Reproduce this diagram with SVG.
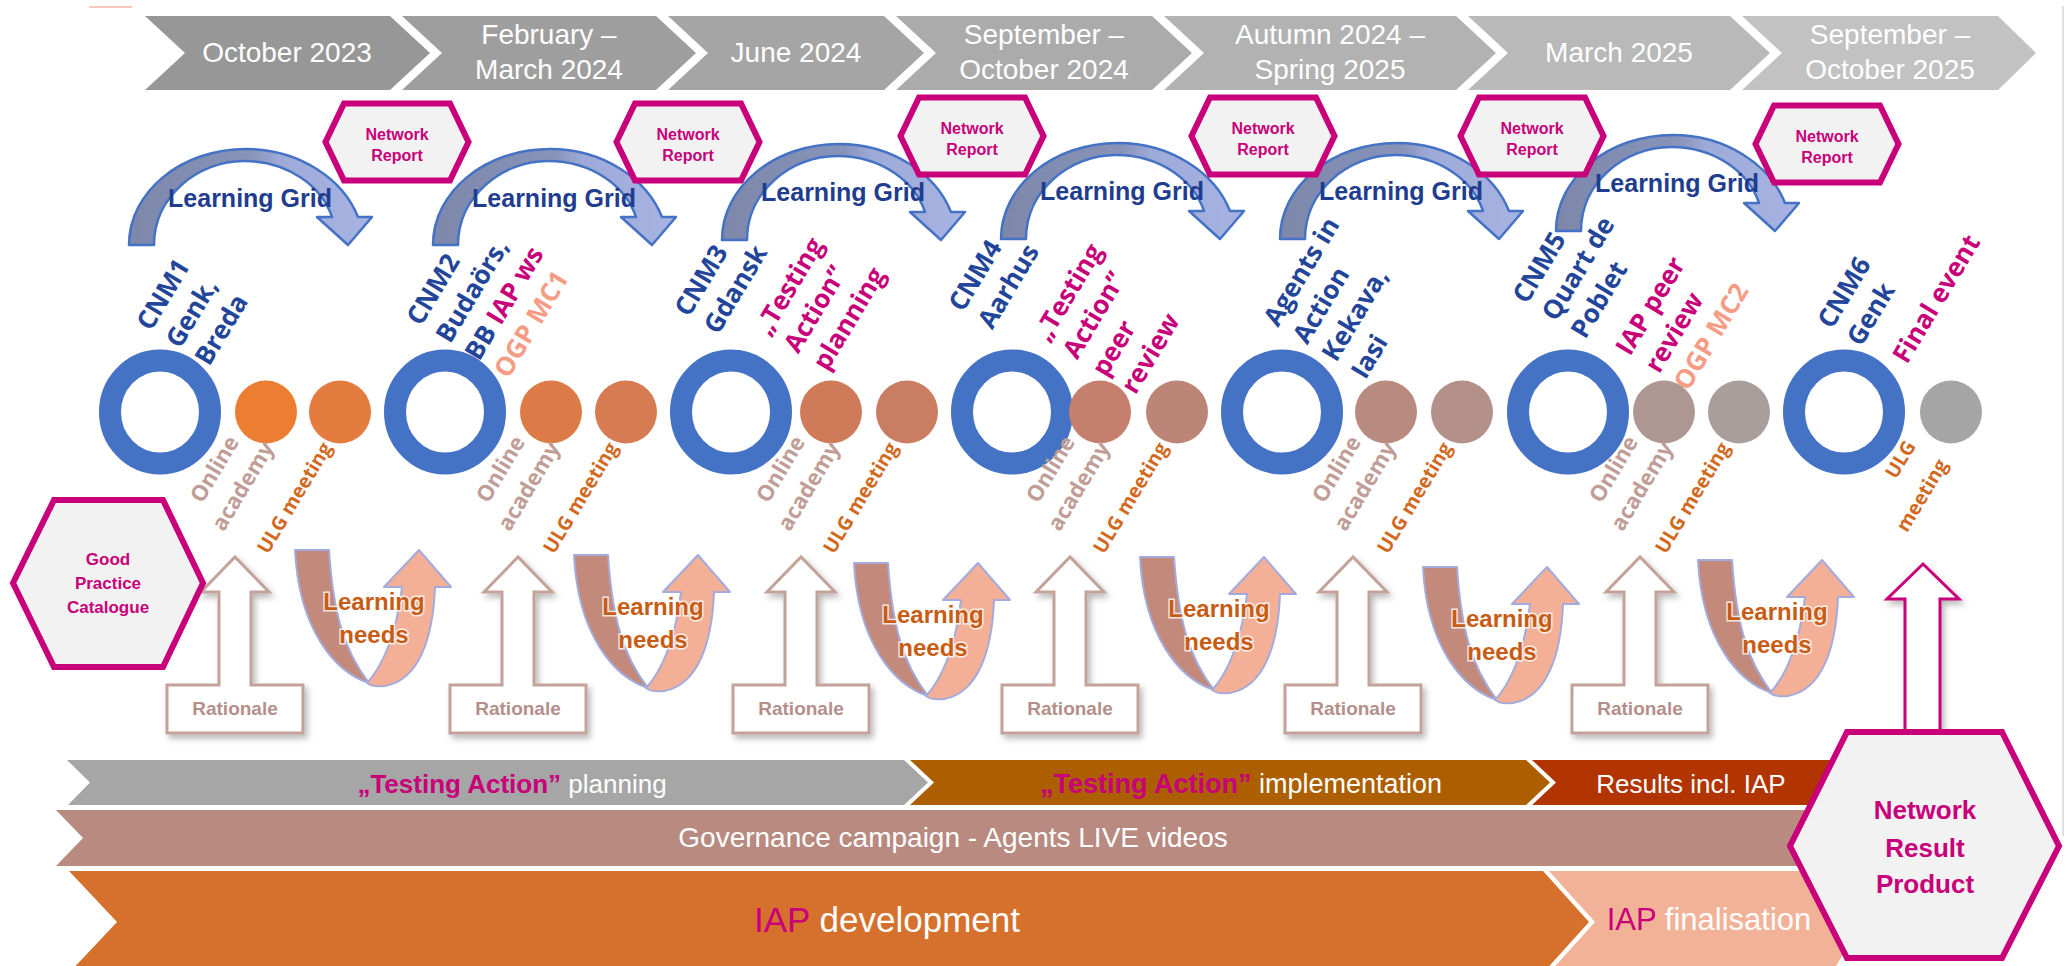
<svg xmlns="http://www.w3.org/2000/svg" width="2069" height="966" viewBox="0 0 2069 966">
  <defs>
    <style>
      .sans { font-family: "Liberation Sans", Arial, sans-serif; }
      .chev-t { font-family: "Liberation Sans", Arial, sans-serif; font-size: 28px; fill: #ffffff; text-anchor: middle; }
      .nr-hex { fill: #f2f2f2; stroke: #c8007a; stroke-width: 6; stroke-linejoin: miter; }
      .nr-t { font-family: "Liberation Sans", Arial, sans-serif; font-weight: bold; font-size: 16px; fill: #c8007a; text-anchor: middle; }
      .lg-arrow { fill: url(#lgGrad); stroke: #4472c4; stroke-width: 2.5; stroke-linejoin: round; }
      .lg-t { font-family: "Liberation Sans", Arial, sans-serif; font-weight: bold; font-size: 25px; fill: #1f3d8e; text-anchor: middle; }
      .ring { fill: none; stroke: #4472c4; stroke-width: 22; }
      .lab { font-family: "Open Sans", "Liberation Sans", sans-serif; font-weight: 700; font-size: 26px; }
      .blue { fill: #22459a; }
      .mag { fill: #c8007a; }
      .sal { fill: #f79c84; }
      .onl { font-family: "Open Sans", "Liberation Sans", sans-serif; font-weight: 700; font-size: 22px; fill: #c09d96; text-anchor: middle; }
      .ulg { font-family: "Open Sans", "Liberation Sans", sans-serif; font-weight: 700; font-size: 19.5px; fill: #d2691e; }
      .rat { fill: #ffffff; stroke: #c3a29a; stroke-width: 3; filter: url(#shadow); }
      .rat-t { font-family: "Liberation Sans", Arial, sans-serif; font-weight: bold; font-size: 19px; fill: #b48f8a; text-anchor: middle; }
      .ln-dark { fill: #c38a7b; stroke: #a3abdc; stroke-width: 2; stroke-linejoin: round; }
      .ln-light { fill: #f3b097; stroke: #a3abdc; stroke-width: 2; stroke-linejoin: round; }
      .ln-t { font-family: "Liberation Sans", Arial, sans-serif; font-weight: bold; font-size: 24px; fill: #c85c14; text-anchor: middle; stroke: #ffffff; stroke-width: 3; stroke-opacity: 0.8; paint-order: stroke; }
      .band-t { font-family: "Liberation Sans", Arial, sans-serif; fill: #ffffff; text-anchor: middle; }
      .big-hex { fill: #f2f2f2; stroke: #c8007a; stroke-width: 6; }
      .hex-t { font-family: "Liberation Sans", Arial, sans-serif; font-weight: bold; fill: #c8007a; text-anchor: middle; }
    </style>
    <linearGradient id="lgGrad" x1="0" y1="0" x2="1" y2="0">
      <stop offset="0" stop-color="#7c87aa"/>
      <stop offset="0.5" stop-color="#8893b9"/>
      <stop offset="0.62" stop-color="#9eaad8"/>
      <stop offset="1" stop-color="#a7b3e2"/>
    </linearGradient>
    <filter id="shadow" x="-30%" y="-20%" width="170%" height="150%">
      <feDropShadow dx="3" dy="4" stdDeviation="3" flood-color="#000000" flood-opacity="0.28"/>
    </filter>
    <polygon id="nrHex" points="-53,-38.5 53,-38.5 71.5,0 53,38.5 -53,38.5 -71.5,0"/>
    <path id="lgArrow" d="M0,0 C0,-53 52,-96 117,-96 C170,-96 214,-66 229,-28 L243,-28 L219,0 L188,-28 L203,-28 C193,-58 160,-84 115,-84 C68,-84 25,-48 25,0 Z"/>
    <path id="ratShape" d="M-68,176 L-68,128 L-16,128 L-16,35 L-34,35 L0,0 L34,35 L16,35 L16,128 L68,128 L68,176 Z"/>
    <path id="lnDark" d="M0,0 L34,0 C38,60 48,100 74,133 C40,122 4,80 0,0 Z"/>
    <path id="lnLight" d="M72,133 C86,118 101,88 107,37 L89,37 L124,0 L156,37 L140,37 C138,88 124,130 90,136 C82,137 76,136 72,133 Z"/>
  </defs>

  <rect x="0" y="0" width="2069" height="966" fill="#ffffff"/>
  <line x1="89" y1="7" x2="132" y2="7" stroke="#f8c8bc" stroke-width="2"/>
  <line x1="2063" y1="6" x2="2063" y2="836" stroke="#d6d6d6" stroke-width="1.5"/>

  <!-- timeline chevrons -->
  <g id="timeline">
    <g id="t1"><polygon points="145,16 390,16 430,53 390,90 145,90 185,53" fill="#979797"/><text class="chev-t" x="287" y="62">October 2023</text></g>
    <g id="t2"><polygon points="402,16 656,16 696,53 656,90 402,90 442,53" fill="#9e9e9e"/><text class="chev-t" x="549" y="44">February –</text><text class="chev-t" x="549" y="79">March 2024</text></g>
    <g id="t3"><polygon points="668,16 884,16 924,53 884,90 668,90 708,53" fill="#a5a5a5"/><text class="chev-t" x="796" y="62">June 2024</text></g>
    <g id="t4"><polygon points="896,16 1152,16 1192,53 1152,90 896,90 936,53" fill="#ababab"/><text class="chev-t" x="1044" y="44">September –</text><text class="chev-t" x="1044" y="79">October 2024</text></g>
    <g id="t5"><polygon points="1164,16 1456,16 1496,53 1456,90 1164,90 1204,53" fill="#b2b2b2"/><text class="chev-t" x="1330" y="44">Autumn 2024 –</text><text class="chev-t" x="1330" y="79">Spring 2025</text></g>
    <g id="t6"><polygon points="1468,16 1730,16 1770,53 1730,90 1468,90 1508,53" fill="#b9b9b9"/><text class="chev-t" x="1619" y="62">March 2025</text></g>
    <g id="t7"><polygon points="1742,16 1998,16 2036,53 1998,90 1742,90 1782,53" fill="#c2c2c2"/><text class="chev-t" x="1890" y="44">September –</text><text class="chev-t" x="1890" y="79">October 2025</text></g>
  </g>

  <!-- connectors: learning grid arcs, rationale and learning-needs arrows -->
  <g id="connectors">
    <g id="learning-grid">
      <use href="#lgArrow" class="lg-arrow" transform="translate(129,245)"/>
      <use href="#lgArrow" class="lg-arrow" transform="translate(433,245)"/>
      <use href="#lgArrow" class="lg-arrow" transform="translate(722,240)"/>
      <use href="#lgArrow" class="lg-arrow" transform="translate(1001,239)"/>
      <use href="#lgArrow" class="lg-arrow" transform="translate(1280,239)"/>
      <use href="#lgArrow" class="lg-arrow" transform="translate(1556,231)"/>
      <text class="lg-t" x="250" y="207">Learning Grid</text>
      <text class="lg-t" x="554" y="207">Learning Grid</text>
      <text class="lg-t" x="843" y="201">Learning Grid</text>
      <text class="lg-t" x="1122" y="200">Learning Grid</text>
      <text class="lg-t" x="1401" y="200">Learning Grid</text>
      <text class="lg-t" x="1677" y="192">Learning Grid</text>
    </g>

    <g id="rationale">
      <g transform="translate(235,557)"><use href="#ratShape" class="rat"/><text class="rat-t" x="0" y="158">Rationale</text></g>
      <g transform="translate(518,557)"><use href="#ratShape" class="rat"/><text class="rat-t" x="0" y="158">Rationale</text></g>
      <g transform="translate(801,557)"><use href="#ratShape" class="rat"/><text class="rat-t" x="0" y="158">Rationale</text></g>
      <g transform="translate(1070,557)"><use href="#ratShape" class="rat"/><text class="rat-t" x="0" y="158">Rationale</text></g>
      <g transform="translate(1353,557)"><use href="#ratShape" class="rat"/><text class="rat-t" x="0" y="158">Rationale</text></g>
      <g transform="translate(1640,557)"><use href="#ratShape" class="rat"/><text class="rat-t" x="0" y="158">Rationale</text></g>
    </g>

    <g id="learning-needs">
      <g transform="translate(295,550)"><use href="#lnDark" class="ln-dark"/><use href="#lnLight" class="ln-light"/><text class="ln-t" x="79" y="60">Learning</text><text class="ln-t" x="79" y="93">needs</text></g>
      <g transform="translate(574,555)"><use href="#lnDark" class="ln-dark"/><use href="#lnLight" class="ln-light"/><text class="ln-t" x="79" y="60">Learning</text><text class="ln-t" x="79" y="93">needs</text></g>
      <g transform="translate(854,563)"><use href="#lnDark" class="ln-dark"/><use href="#lnLight" class="ln-light"/><text class="ln-t" x="79" y="60">Learning</text><text class="ln-t" x="79" y="93">needs</text></g>
      <g transform="translate(1140,557)"><use href="#lnDark" class="ln-dark"/><use href="#lnLight" class="ln-light"/><text class="ln-t" x="79" y="60">Learning</text><text class="ln-t" x="79" y="93">needs</text></g>
      <g transform="translate(1423,567)"><use href="#lnDark" class="ln-dark"/><use href="#lnLight" class="ln-light"/><text class="ln-t" x="79" y="60">Learning</text><text class="ln-t" x="79" y="93">needs</text></g>
      <g transform="translate(1698,560)"><use href="#lnDark" class="ln-dark"/><use href="#lnLight" class="ln-light"/><text class="ln-t" x="79" y="60">Learning</text><text class="ln-t" x="79" y="93">needs</text></g>
    </g>

    <path id="final-arrow" d="M1905,736 L1905,599 L1887,599 L1923,564 L1959,599 L1940,599 L1940,736" fill="#ffffff" stroke="#c8007a" stroke-width="3" filter="url(#shadow)"/>
  </g>

  <!-- network report badges -->
  <g id="nr1" transform="translate(397,142)"><use href="#nrHex" class="nr-hex"/><text class="nr-t" y="-2">Network</text><text class="nr-t" y="19">Report</text></g>
  <g id="nr2" transform="translate(688,142)"><use href="#nrHex" class="nr-hex"/><text class="nr-t" y="-2">Network</text><text class="nr-t" y="19">Report</text></g>
  <g id="nr3" transform="translate(972,136)"><use href="#nrHex" class="nr-hex"/><text class="nr-t" y="-2">Network</text><text class="nr-t" y="19">Report</text></g>
  <g id="nr4" transform="translate(1263,136)"><use href="#nrHex" class="nr-hex"/><text class="nr-t" y="-2">Network</text><text class="nr-t" y="19">Report</text></g>
  <g id="nr5" transform="translate(1532,136)"><use href="#nrHex" class="nr-hex"/><text class="nr-t" y="-2">Network</text><text class="nr-t" y="19">Report</text></g>
  <g id="nr6" transform="translate(1827,144)"><use href="#nrHex" class="nr-hex"/><text class="nr-t" y="-2">Network</text><text class="nr-t" y="19">Report</text></g>

  <!-- meeting rings -->
  <g id="cnm-rings">
    <ellipse class="ring" cx="160" cy="412" rx="50" ry="51.5"/>
    <ellipse class="ring" cx="445" cy="412" rx="50" ry="51.5"/>
    <ellipse class="ring" cx="731" cy="412" rx="50" ry="51.5"/>
    <ellipse class="ring" cx="1012" cy="412" rx="50" ry="51.5"/>
    <ellipse class="ring" cx="1282" cy="412" rx="50" ry="51.5"/>
    <ellipse class="ring" cx="1568" cy="412" rx="50" ry="51.5"/>
    <ellipse class="ring" cx="1844" cy="412" rx="50" ry="51.5"/>
  </g>

  <!-- academy / ULG dots -->
  <g id="dots">
    <ellipse cx="266" cy="412" rx="31" ry="31.5" fill="#ed7d31"/>
    <ellipse cx="340" cy="412" rx="31" ry="31.5" fill="#e47b3f"/>
    <ellipse cx="551" cy="412" rx="31" ry="31.5" fill="#dc7a48"/>
    <ellipse cx="626" cy="412" rx="31" ry="31.5" fill="#d67b52"/>
    <ellipse cx="831" cy="412" rx="31" ry="31.5" fill="#cf7a58"/>
    <ellipse cx="907" cy="412" rx="31" ry="31.5" fill="#c97d62"/>
    <ellipse cx="1100" cy="412" rx="31" ry="31.5" fill="#c4806d"/>
    <ellipse cx="1177" cy="412" rx="31" ry="31.5" fill="#bd8578"/>
    <ellipse cx="1386" cy="412" rx="31" ry="31.5" fill="#b88a80"/>
    <ellipse cx="1462" cy="412" rx="31" ry="31.5" fill="#b39089"/>
    <ellipse cx="1664" cy="412" rx="31" ry="31.5" fill="#ae9692"/>
    <ellipse cx="1739" cy="412" rx="31" ry="31.5" fill="#a99e9c"/>
    <ellipse cx="1951" cy="412" rx="31" ry="31.5" fill="#a5a5a5"/>
  </g>

  <!-- meeting labels -->
  <g id="cnm1" class="lab blue" transform="translate(151,332) rotate(-59)"><text y="0">CNM1</text><text y="34">Genk,</text><text y="68">Breda</text></g>
  <g id="cnm2" class="lab blue" transform="translate(421,327) rotate(-59)"><text y="0">CNM2</text><text y="34">Budaörs,</text><text y="68">BB <tspan class="mag">IAP ws</tspan></text><text y="102" class="sal">OGP MC1</text></g>
  <g id="cnm3" class="lab blue" transform="translate(689,318) rotate(-59)"><text y="0">CNM3</text><text y="34">Gdansk</text></g>
  <g id="ta-planning" class="lab mag" transform="translate(769,337) rotate(-59)"><text y="0">„Testing</text><text y="34">Action”</text><text y="68">planning</text></g>
  <g id="cnm4" class="lab blue" transform="translate(963,313) rotate(-59)"><text y="0">CNM4</text><text y="34">Aarhus</text></g>
  <g id="ta-review" class="lab mag" transform="translate(1048,343) rotate(-59)"><text y="0">„Testing</text><text y="34">Action”</text><text y="68">peer</text><text y="102">review</text></g>
  <g id="agents" class="lab blue" transform="translate(1278,328) rotate(-59)"><text y="0">Agents in</text><text y="34">Action</text><text y="68">Kekava,</text><text y="102">Iasi</text></g>
  <g id="cnm5" class="lab blue" transform="translate(1527,305) rotate(-59)"><text y="0">CNM5</text><text y="34">Quart de</text><text y="68">Poblet</text></g>
  <g id="iap-review" class="lab mag" transform="translate(1630,357) rotate(-59)"><text y="0">IAP peer</text><text y="34">review</text><text y="68" class="sal">OGP MC2</text></g>
  <g id="cnm6" class="lab blue" transform="translate(1832,330) rotate(-59)"><text y="0">CNM6</text><text y="34">Genk</text></g>
  <g id="final-event" class="lab mag" transform="translate(1907,365) rotate(-59)"><text y="0">Final event</text></g>

  <!-- online academy / ULG labels -->
  <g id="sub-labels">
    <g transform="translate(221,473) rotate(-59)"><text class="onl" y="0">Online</text><text class="onl" y="33">academy</text></g>
    <g transform="translate(507,473) rotate(-59)"><text class="onl" y="0">Online</text><text class="onl" y="33">academy</text></g>
    <g transform="translate(787,473) rotate(-59)"><text class="onl" y="0">Online</text><text class="onl" y="33">academy</text></g>
    <g transform="translate(1057,473) rotate(-59)"><text class="onl" y="0">Online</text><text class="onl" y="33">academy</text></g>
    <g transform="translate(1343,473) rotate(-59)"><text class="onl" y="0">Online</text><text class="onl" y="33">academy</text></g>
    <g transform="translate(1620,473) rotate(-59)"><text class="onl" y="0">Online</text><text class="onl" y="33">academy</text></g>
    <text class="ulg" transform="translate(268,555) rotate(-59)">ULG meeting</text>
    <text class="ulg" transform="translate(554,555) rotate(-59)">ULG meeting</text>
    <text class="ulg" transform="translate(834,555) rotate(-59)">ULG meeting</text>
    <text class="ulg" transform="translate(1104,555) rotate(-59)">ULG meeting</text>
    <text class="ulg" transform="translate(1388,555) rotate(-59)">ULG meeting</text>
    <text class="ulg" transform="translate(1666,555) rotate(-59)">ULG meeting</text>
    <g transform="translate(1896,480) rotate(-59)"><text class="ulg" x="0" y="0">ULG</text><text class="ulg" x="-40" y="37">meeting</text></g>
  </g>

  <!-- good practice catalogue -->
  <g id="gpc">
    <polygon class="big-hex" points="54,500 163,500 203,583 163,667 54,667 13,583"/>
    <text class="hex-t" x="108" y="565" font-size="17">Good</text>
    <text class="hex-t" x="108" y="589" font-size="17">Practice</text>
    <text class="hex-t" x="108" y="613" font-size="17">Catalogue</text>
  </g>

  <!-- phase bands -->
  <g id="phases">
    <g id="ta-plan"><polygon points="67,760 904,760 928,782.5 904,805 68,805 90,782.5" fill="#a6a6a6"/>
      <text class="band-t" x="512" y="793" font-size="26"><tspan fill="#c8007a" font-weight="bold">„Testing Action”</tspan> planning</text></g>
    <g id="ta-impl"><polygon points="910,760 1526,760 1550,782.5 1526,805 910,805 934,782.5" fill="#ad5f00"/>
      <text class="band-t" x="1241" y="793" font-size="27"><tspan fill="#c8007a" font-weight="bold">„Testing Action”</tspan>  implementation</text></g>
    <g id="results"><polygon points="1532,760 1832,760 1852,782.5 1832,805 1532,805 1556,782.5" fill="#b23400"/>
      <text class="band-t" x="1691" y="793" font-size="26">Results incl. IAP</text></g>
    <g id="governance"><polygon points="56,810 1840,810 1862,838 1840,866 56,866 83,838" fill="#b88a80"/>
      <text class="band-t" x="953" y="847" font-size="28">Governance campaign - Agents LIVE videos</text></g>
    <g id="iap-dev"><polygon points="69,871 1543,871 1589,922 1543,973 69,973 117,922" fill="#d6712d"/>
      <text class="band-t" x="887" y="932" font-size="35"><tspan fill="#c8007a">IAP</tspan> development</text></g>
    <g id="iap-final"><polygon points="1549,871 1832,871 1862,922 1832,973 1549,973 1595,922" fill="#f2b298"/>
      <text class="band-t" x="1709" y="930" font-size="31"><tspan fill="#c8007a">IAP</tspan> finalisation</text></g>
  </g>

  <!-- network result product -->
  <g id="nrp">
    <polygon class="big-hex" points="1847,732 2002,732 2059,846 2002,958 1847,958 1790,846"/>
    <text class="hex-t" x="1925" y="819" font-size="26">Network</text>
    <text class="hex-t" x="1925" y="857" font-size="26">Result</text>
    <text class="hex-t" x="1925" y="893" font-size="26">Product</text>
  </g>
</svg>
